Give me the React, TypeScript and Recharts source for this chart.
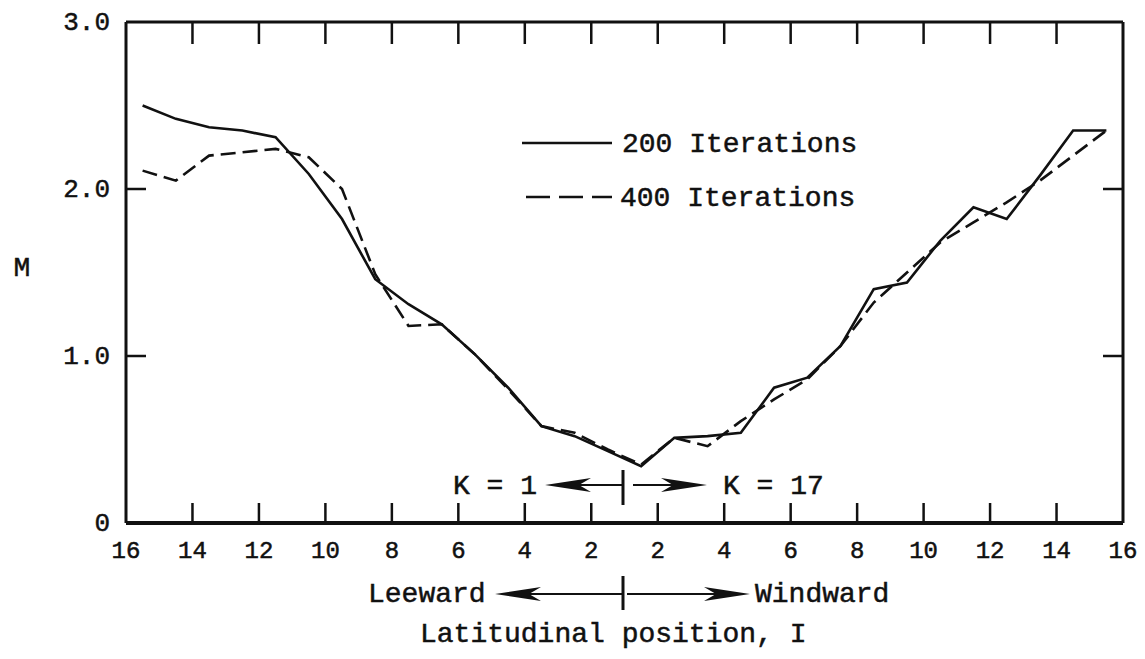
import React from 'react';
import { LineChart, Line, XAxis, YAxis } from 'recharts';

// latitudinal position, measured from the split between leeward and windward
const positions = [
  -14.5, -13.5, -12.5, -11.5, -10.5, -9.5, -8.5, -7.5, -6.5, -5.5, -4.5, -3.5, -2.5, -1.5, -0.5,
  0.5, 1.5, 2.5, 3.5, 4.5, 5.5, 6.5, 7.5, 8.5, 9.5, 10.5, 11.5, 12.5, 13.5, 14.5,
];
const iter200 = [
  2.50, 2.42, 2.37, 2.35, 2.31, 2.09, 1.82, 1.46, 1.31, 1.19, 1.01, 0.81, 0.58, 0.52, 0.43,
  0.34, 0.51, 0.52, 0.54, 0.81, 0.87, 1.06, 1.40, 1.44, 1.69, 1.89, 1.82, 2.08, 2.35, 2.35,
];
const iter400 = [
  2.11, 2.05, 2.20, 2.22, 2.24, 2.19, 2.00, 1.49, 1.18, 1.19, 1.01, 0.80, 0.58, 0.54, 0.44,
  0.35, 0.51, 0.46, 0.61, 0.74, 0.86, 1.06, 1.32, 1.50, 1.68, 1.80, 1.92, 2.05, 2.20, 2.35,
];

const xTicks = [-15, -13, -11, -9, -7, -5, -3, -1, 1, 3, 5, 7, 9, 11, 13, 15];
const xTickLabels = ['16', '14', '12', '10', '8', '6', '4', '2', '2', '4', '6', '8', '10', '12', '14', '16'];
const innerXTicks = [-13, -11, -9, -7, -5, -3, -1, 1, 3, 5, 7, 9, 11, 13];
const yTicks = [0, 1, 2, 3];
const yTickLabels = ['0', '1.0', '2.0', '3.0'];
const innerYTicks = [1, 2];

const FONT = "'Liberation Mono', 'Courier New', monospace";
const INK = '#111';

const data = positions.map((x, i) => ({ x, iter200: iter200[i], iter400: iter400[i] }));

const NoLabel = () => <g />;

const BottomTick = ({ x, y, payload }: any) => {
  const i = xTicks.indexOf(payload.value);
  return (
    <g>
      {innerXTicks.includes(payload.value) && (
        <line x1={x} y1={y} x2={x} y2={y - 20} stroke={INK} strokeWidth={2.5} />
      )}
      <text x={x} y={y + 35} textAnchor="middle" fontFamily={FONT} fontSize={24} fill={INK} stroke={INK} strokeWidth={0.5}>
        {xTickLabels[i]}
      </text>
    </g>
  );
};

const LeftTick = ({ x, y, payload }: any) => {
  const i = yTicks.indexOf(payload.value);
  return (
    <g>
      {innerYTicks.includes(payload.value) && (
        <line x1={x} y1={y} x2={x + 20} y2={y} stroke={INK} strokeWidth={2.5} />
      )}
      <text x={x - 16} y={y + 8} textAnchor="end" fontFamily={FONT} fontSize={26} fill={INK} stroke={INK} strokeWidth={0.5}>
        {yTickLabels[i]}
      </text>
    </g>
  );
};

// arrow with a long narrow head, tip at (tx, y)
const Arrow = ({ from, tx, y }: { from: number; tx: number; y: number }) => {
  const dir = tx < from ? 1 : -1;
  return (
    <g>
      <line x1={from} y1={y} x2={tx + dir * 30} y2={y} stroke={INK} strokeWidth={1.8} />
      <polygon
        points={`${tx},${y} ${tx + dir * 46},${y - 7} ${tx + dir * 34},${y} ${tx + dir * 46},${y + 7}`}
        fill={INK}
      />
    </g>
  );
};

export default function App() {
  const txt = { fontFamily: FONT, fontSize: 28, fill: INK, stroke: INK, strokeWidth: 0.5 };
  return (
    <div style={{ position: 'absolute', left: 0, top: 0, width: 1145, height: 659, background: '#fff' }}>
      <LineChart width={1145} height={659} data={data} margin={{ top: 22, right: 22, bottom: 106, left: 0 }}>
        <XAxis
          dataKey="x"
          type="number"
          domain={[-15, 15]}
          ticks={xTicks}
          interval={0}
          height={30}
          tickSize={0}
          tickMargin={0}
          tickLine={false}
          tick={<BottomTick />}
          axisLine={{ stroke: INK, strokeWidth: 4 }}
          allowDataOverflow
        />
        <XAxis
          xAxisId="top"
          dataKey="x"
          orientation="top"
          type="number"
          domain={[-15, 15]}
          ticks={innerXTicks}
          interval={0}
          height={1}
          mirror
          tickSize={22}
          tick={<NoLabel />}
          tickLine={{ stroke: INK, strokeWidth: 2.5 }}
          axisLine={{ stroke: INK, strokeWidth: 3 }}
          allowDataOverflow
        />
        <YAxis
          type="number"
          domain={[0, 3]}
          ticks={yTicks}
          interval={0}
          width={126}
          tickSize={0}
          tickMargin={0}
          tickLine={false}
          tick={<LeftTick />}
          axisLine={{ stroke: INK, strokeWidth: 3 }}
          allowDataOverflow
        />
        <YAxis
          yAxisId="right"
          orientation="right"
          type="number"
          domain={[0, 3]}
          ticks={innerYTicks}
          interval={0}
          width={1}
          mirror
          tickSize={20}
          tick={<NoLabel />}
          tickLine={{ stroke: INK, strokeWidth: 2.5 }}
          axisLine={{ stroke: INK, strokeWidth: 3 }}
          allowDataOverflow
        />
        <Line
          type="linear"
          dataKey="iter200"
          stroke={INK}
          strokeWidth={2.6}
          dot={false}
          isAnimationActive={false}
        />
        <Line
          type="linear"
          dataKey="iter400"
          stroke={INK}
          strokeWidth={2.6}
          strokeDasharray="15 7"
          dot={false}
          isAnimationActive={false}
        />
        {/* invisible series so the top and right frame axes get a domain */}
        <Line
          xAxisId="top"
          yAxisId="right"
          dataKey="iter200"
          stroke="none"
          dot={false}
          legendType="none"
          isAnimationActive={false}
        />
      </LineChart>

      <svg width={1145} height={659} style={{ position: 'absolute', left: 0, top: 0, pointerEvents: 'none' }}>
        {/* legend */}
        <line x1={522} y1={143} x2={612} y2={143} stroke={INK} strokeWidth={2.6} />
        <text x={622} y={152} {...txt}>200 Iterations</text>
        <line x1={526} y1={197} x2={612} y2={197} stroke={INK} strokeWidth={2.6} strokeDasharray="24 9" />
        <text x={620} y={206} {...txt}>400 Iterations</text>

        {/* y axis title */}
        <text x={22} y={276} textAnchor="middle" {...txt}>M</text>

        {/* K markers inside the plot */}
        <text x={453} y={494} {...txt}>K = 1</text>
        <Arrow from={622} tx={545} y={485} />
        <line x1={623} y1={470} x2={623} y2={505} stroke={INK} strokeWidth={3} />
        <Arrow from={633} tx={707} y={485} />
        <text x={723} y={494} {...txt}>K = 17</text>

        {/* leeward / windward */}
        <text x={368} y={602} {...txt}>Leeward</text>
        <Arrow from={622} tx={495} y={594} />
        <line x1={623} y1={576} x2={623} y2={610} stroke={INK} strokeWidth={3} />
        <Arrow from={627} tx={750} y={594} />
        <text x={755} y={602} {...txt}>Windward</text>

        <text x={420} y={642} {...txt}>Latitudinal position, I</text>
      </svg>
    </div>
  );
}
